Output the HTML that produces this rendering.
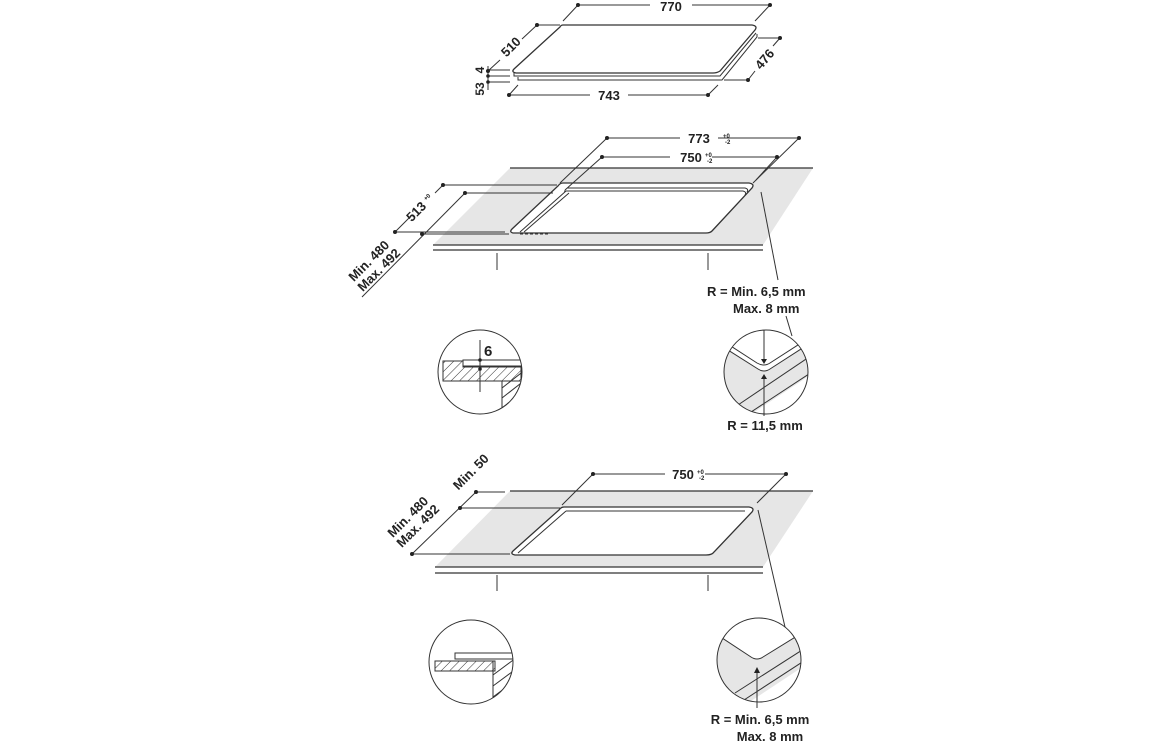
<!DOCTYPE html>
<html><head><meta charset="utf-8"><style>
html,body{margin:0;padding:0;background:#fff;}
svg{display:block;}
text{font-family:"Liberation Sans",Arial,sans-serif;font-weight:bold;fill:#222;}
</style></head><body>
<svg width="1156" height="742" viewBox="0 0 1156 742" xmlns="http://www.w3.org/2000/svg">
<defs>
<pattern id="h" width="6" height="6" patternUnits="userSpaceOnUse" patternTransform="rotate(45)">
<rect width="6" height="6" fill="#fff"/><line x1="0" y1="0" x2="0" y2="6" stroke="#333" stroke-width="1"/></pattern>
<clipPath id="c1"><circle cx="480" cy="372" r="42"/></clipPath>
<clipPath id="c2"><circle cx="766" cy="372" r="42"/></clipPath>
<clipPath id="c3"><circle cx="471" cy="662" r="42"/></clipPath>
<clipPath id="c4"><circle cx="759" cy="660" r="42"/></clipPath>
</defs>
<g stroke="#333" stroke-width="1" fill="none">
<path d="M563,25 L752,25 Q758,26 755,30 L720,71 Q717,73 713,73 L516,73 Q511,72 514,69 L560,27 Q561,25 563,25Z" stroke-width="1.3"/>
<path d="M514,73 L514,76 L720,76 L756,33"/>
<path d="M518,77 L518,80 L722,80 L757,37 L757,34"/>
<line x1="578" y1="5" x2="650" y2="5"/><line x1="692" y1="5" x2="770" y2="5"/>
<line x1="563" y1="21" x2="578" y2="5"/><line x1="755" y1="21" x2="770" y2="5"/>
<line x1="537" y1="25" x2="560" y2="25"/><line x1="537" y1="25" x2="522" y2="39"/><line x1="500" y1="60" x2="488" y2="71"/>
<line x1="758" y1="38" x2="780" y2="38"/><line x1="780" y1="38" x2="773" y2="46"/><line x1="755" y1="71" x2="748" y2="80"/>
<line x1="724" y1="80" x2="748" y2="80"/>
<line x1="509" y1="95" x2="590" y2="95"/><line x1="628" y1="95" x2="708" y2="95"/>
<line x1="509" y1="95" x2="518" y2="85"/><line x1="708" y1="95" x2="718" y2="85"/>
<line x1="488" y1="70" x2="510" y2="70"/><line x1="488" y1="76" x2="510" y2="76"/><line x1="488" y1="82" x2="510" y2="82"/>
<line x1="488" y1="66" x2="488" y2="90"/>
</g>
<g fill="#222">
<circle cx="578" cy="5" r="2"/><circle cx="770" cy="5" r="2"/><circle cx="537" cy="25" r="2"/><circle cx="488" cy="71" r="2"/>
<circle cx="780" cy="38" r="2"/><circle cx="748" cy="80" r="2"/><circle cx="509" cy="95" r="2"/><circle cx="708" cy="95" r="2"/>
<circle cx="488" cy="76" r="1.8"/><circle cx="488" cy="82" r="1.8"/>
</g>
<text x="671" y="11" font-size="13" text-anchor="middle">770</text>
<text x="609" y="100" font-size="13" text-anchor="middle">743</text>
<text font-size="13" text-anchor="middle" transform="translate(514,50) rotate(-45)">510</text>
<text font-size="13" text-anchor="middle" transform="translate(768,62) rotate(-50)">476</text>
<text font-size="12" text-anchor="middle" transform="translate(484,70) rotate(-90)">4</text>
<text font-size="12" text-anchor="middle" transform="translate(484,89) rotate(-90)">53</text>

<polygon points="510,168 813,168 763,245 433,245" fill="#e6e6e6"/>
<g stroke="#333" stroke-width="1" fill="none">
<line x1="510" y1="168" x2="813" y2="168" stroke-width="1.3"/>
<line x1="433" y1="245" x2="763" y2="245" stroke-width="1.3"/>
<line x1="433" y1="250" x2="763" y2="250" stroke-width="1.3"/>
<line x1="497" y1="253" x2="497" y2="270"/><line x1="708" y1="253" x2="708" y2="270"/>
<path d="M563,183 L749,183 Q755,184 752,188 L712,231 Q710,233 706,233 L513,233 Q509,232 512,229 L558,186 Q560,183 563,183Z" fill="#fff" stroke-width="1.3"/>
<path d="M567,188 L745,188 Q749,189 747,192 M564,191 L743,191 Q747,192 745,195 M566,191 L520,232 M569,193 L524,232"/>
<path d="M520,234 L548,234" stroke-dasharray="3,2"/>
<line x1="607" y1="138" x2="680" y2="138"/><line x1="718" y1="138" x2="799" y2="138"/>
<line x1="607" y1="138" x2="560" y2="183"/><line x1="799" y1="138" x2="753" y2="183"/>
<line x1="602" y1="157" x2="670" y2="157"/><line x1="712" y1="157" x2="777" y2="157"/>
<line x1="602" y1="157" x2="565" y2="190"/><line x1="777" y1="157" x2="756" y2="180"/>
<line x1="443" y1="185" x2="557" y2="185"/><line x1="465" y1="193" x2="553" y2="193"/>
<line x1="395" y1="232" x2="505" y2="232"/><line x1="422" y1="234" x2="509" y2="234"/>
<line x1="443" y1="185" x2="435" y2="193"/><line x1="411" y1="216" x2="395" y2="232"/>
<line x1="465" y1="193" x2="362" y2="297"/>
<line x1="761" y1="192" x2="778" y2="280"/><line x1="786" y1="316" x2="792" y2="336"/>
</g>
<g fill="#222">
<circle cx="607" cy="138" r="2"/><circle cx="799" cy="138" r="2"/><circle cx="602" cy="157" r="2"/><circle cx="777" cy="157" r="2"/>
<circle cx="443" cy="185" r="2"/><circle cx="465" cy="193" r="2"/><circle cx="395" cy="232" r="2"/><circle cx="422" cy="234" r="2"/>
</g>
<text x="699" y="143" font-size="13" text-anchor="middle">773</text><text x="723" y="138" font-size="6">+0</text><text x="725" y="144" font-size="6">-2</text>
<text x="691" y="162" font-size="13" text-anchor="middle">750</text><text x="705" y="157" font-size="6">+0</text><text x="707" y="163" font-size="6">-2</text>
<text font-size="13" text-anchor="middle" transform="translate(423,211) rotate(-45)">513 <tspan font-size="6" dy="-5">+0</tspan></text>
<text font-size="13" text-anchor="middle" transform="translate(372,264) rotate(-45)">Min. 480</text>
<text font-size="13" text-anchor="middle" transform="translate(382,273) rotate(-45)">Max. 492</text>
<text x="707" y="296" font-size="13">R = Min. 6,5 mm</text>
<text x="733" y="313" font-size="13">Max. 8 mm</text>

<g clip-path="url(#c1)" stroke="#333" fill="none">
<path d="M443,361 L463,361 L463,367 L521,367 L521,381 L443,381Z" fill="url(#h)"/>
<rect x="463" y="360" width="60" height="6" fill="#fff"/>
<path d="M502,381 L502,420"/>
<path d="M502,388 L525,370 M502,398 L525,380 M502,408 L525,390 M502,418 L525,400"/>
<line x1="480" y1="340" x2="480" y2="392"/>
</g>
<circle cx="480" cy="372" r="42" stroke="#333" fill="none"/>
<circle cx="480" cy="360" r="1.8" fill="#222"/><circle cx="480" cy="369" r="1.8" fill="#222"/>
<text x="484" y="356" font-size="15">6</text>

<g clip-path="url(#c2)" stroke="#333" fill="none">
<path d="M720,345 L758,369 Q764,373 770,369 L815,340 L815,372 L750,415 L715,415Z" fill="#e6e6e6" stroke="none"/>
<path d="M720,339 L757,363 Q764,367 770,363 L815,334"/>
<path d="M720,345 L758,369 Q764,373 770,369 L815,340"/>
<line x1="735" y1="407" x2="815" y2="353"/>
<line x1="748" y1="414" x2="815" y2="370"/>
<line x1="764" y1="320" x2="764" y2="360"/><line x1="764" y1="378" x2="764" y2="420"/>
</g>
<circle cx="766" cy="372" r="42" stroke="#333" fill="none"/>
<line x1="764" y1="412" x2="764" y2="416" stroke="#333"/>
<polygon points="761,359 767,359 764,364" fill="#222"/><polygon points="761,379 767,379 764,374" fill="#222"/>
<text x="765" y="430" font-size="13" text-anchor="middle">R = 11,5 mm</text>

<polygon points="510,491 813,491 763,567 435,567" fill="#e6e6e6"/>
<g stroke="#333" stroke-width="1" fill="none">
<line x1="510" y1="491" x2="813" y2="491" stroke-width="1.3"/>
<line x1="435" y1="567" x2="763" y2="567" stroke-width="1.3"/>
<line x1="435" y1="573" x2="763" y2="573" stroke-width="1.3"/>
<line x1="497" y1="575" x2="497" y2="591"/><line x1="708" y1="575" x2="708" y2="591"/>
<path d="M564,507 L749,507 Q755,508 752,512 L714,552 Q712,555 706,555 L515,555 Q510,554 513,551 L559,510 Q561,507 564,507Z" fill="#fff" stroke-width="1.3"/>
<path d="M566,511 L745,511 M566,511 L518,553"/>
<line x1="593" y1="474" x2="665" y2="474"/><line x1="705" y1="474" x2="786" y2="474"/>
<line x1="593" y1="474" x2="562" y2="505"/><line x1="786" y1="474" x2="757" y2="503"/>
<line x1="476" y1="492" x2="505" y2="492"/><line x1="460" y1="508" x2="560" y2="508"/><line x1="412" y1="554" x2="510" y2="554"/>
<line x1="476" y1="492" x2="412" y2="554"/>
<line x1="758" y1="510" x2="785" y2="627"/>
</g>
<g fill="#222">
<circle cx="593" cy="474" r="2"/><circle cx="786" cy="474" r="2"/>
<circle cx="476" cy="492" r="2"/><circle cx="460" cy="508" r="2"/><circle cx="412" cy="554" r="2"/>
</g>
<text x="683" y="479" font-size="13" text-anchor="middle">750</text><text x="697" y="474" font-size="6">+0</text><text x="699" y="480" font-size="6">-2</text>
<text font-size="13" text-anchor="middle" transform="translate(474,475) rotate(-45)">Min. 50</text>
<text font-size="13" text-anchor="middle" transform="translate(411,520) rotate(-45)">Min. 480</text>
<text font-size="13" text-anchor="middle" transform="translate(421,529) rotate(-45)">Max. 492</text>

<g clip-path="url(#c3)" stroke="#333" fill="none">
<rect x="435" y="661" width="60" height="10" fill="url(#h)"/>
<rect x="455" y="653" width="65" height="6" fill="#fff"/>
<path d="M493,661 L493,710"/>
<path d="M493,675 L520,655 M493,686 L520,666 M493,697 L520,677 M493,708 L520,688"/>
</g>
<circle cx="471" cy="662" r="42" stroke="#333" fill="none"/>

<g clip-path="url(#c4)" stroke="#333" fill="none">
<path d="M710,630 L751,657 Q757,661 763,657 L810,628 L810,662 L745,705 L710,705Z" fill="#e6e6e6" stroke="none"/>
<path d="M710,630 L751,657 Q757,661 763,657 L810,628"/>
<line x1="735" y1="693" x2="810" y2="645"/>
<line x1="744" y1="700" x2="810" y2="657"/>
<line x1="757" y1="670" x2="757" y2="710"/>
</g>
<circle cx="759" cy="660" r="42" stroke="#333" fill="none"/>
<line x1="757" y1="700" x2="757" y2="708" stroke="#333"/>
<polygon points="754,673 760,673 757,667" fill="#222"/>
<text x="760" y="724" font-size="13" text-anchor="middle">R = Min. 6,5 mm</text>
<text x="770" y="741" font-size="13" text-anchor="middle">Max. 8 mm</text>
</svg>
</body></html>
